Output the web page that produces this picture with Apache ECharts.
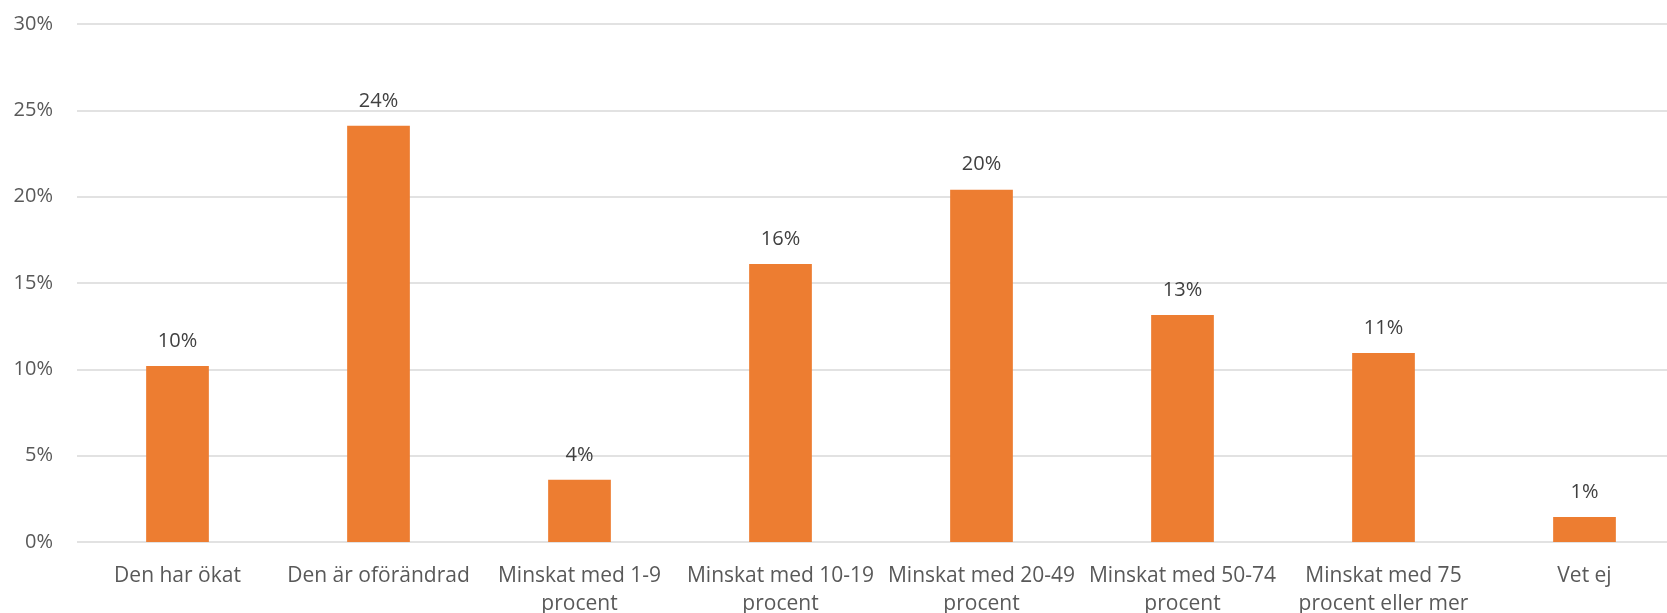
<!DOCTYPE html>
<html>
<head>
<meta charset="utf-8">
<script src="https://cdn.jsdelivr.net/npm/echarts@6/dist/echarts.min.js"></script>
<style>
html,body{margin:0;padding:0;background:#fff;overflow:hidden;}
#chart{width:1667px;height:613px;}
</style>
</head>
<body>
<div id="chart"></div>
<script>
const categories = [
  "Den har ökat",
  "Den är oförändrad",
  "Minskat med 1-9\nprocent",
  "Minskat med 10-19\nprocent",
  "Minskat med 20-49\nprocent",
  "Minskat med 50-74\nprocent",
  "Minskat med 75\nprocent eller mer",
  "Vet ej"
];
const values = [10.2, 24.1, 3.6, 16.1, 20.4, 13.15, 10.95, 1.45];
const yTicks = [0, 5, 10, 15, 20, 25, 30];

const chart = echarts.init(document.getElementById('chart'));
const font = '"Open Sans", "Liberation Sans", sans-serif';
chart.setOption({
  animation: false,
  grid: { left: 77, width: 1608, top: 24, bottom: 71, containLabel: false, outerBoundsMode: 'none' },
  xAxis: {
    type: 'category',
    data: categories,
    axisLine: { show: false },
    axisTick: { show: false },
    axisLabel: {
      color: '#595959',
      fontFamily: font,
      fontSize: 21,
      lineHeight: 28,
      margin: 20,
      interval: 0
    }
  },
  yAxis: {
    type: 'value',
    min: yTicks[0],
    max: yTicks[yTicks.length - 1],
    interval: 5,
    axisLine: { show: false },
    axisTick: { show: false },
    splitLine: { lineStyle: { color: '#D9D9D9', width: 1.5 } },
    axisLabel: {
      color: '#595959',
      fontFamily: font,
      fontSize: 20,
      margin: 24,
      formatter: v => v + '%'
    }
  },
  series: [{
    type: 'bar',
    data: values,
    barWidth: '31.2%',
    itemStyle: { color: '#ED7D31' },
    label: {
      show: true,
      position: 'top',
      distance: 15,
      color: '#404040',
      fontFamily: font,
      fontSize: 20,
      formatter: p => Math.round(p.value) + '%'
    }
  }]
});
</script>
</body>
</html>
